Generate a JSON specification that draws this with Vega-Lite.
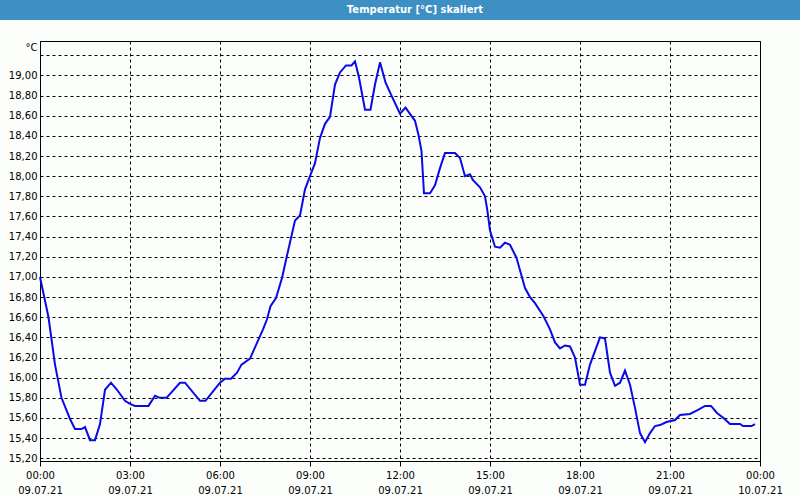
{
  "$schema": "https://vega.github.io/schema/vega-lite/v6.json",
  "padding": 0,
  "background": "#fcfefc",
  "spacing": 20,
  "config": {
    "font": "DejaVu Sans",
    "view": {"stroke": "black", "fill": "#fcfefc"}
  },
  "vconcat": [
    {
      "width": 800,
      "height": 20,
      "view": {"stroke": null, "fill": "#3d8fc4"},
      "data": {"values": [{"label": "Temperatur [°C] skaliert"}]},
      "mark": {"type": "text", "font": "DejaVu Sans", "fontSize": 10, "fontWeight": "bold", "color": "white", "baseline": "middle", "align": "center", "dx": 15},
      "encoding": {"text": {"field": "label", "type": "nominal"}}
    },
    {
      "bounds": "flush",
      "spacing": 10,
      "hconcat": [
        {
          "width": 30,
          "height": 420,
          "view": {"stroke": null, "fill": null},
          "data": {"values": [{"a": 1}]},
          "mark": {"type": "point", "opacity": 0},
          "encoding": {}
        },
        {
          "width": 720,
          "height": 420,
          "data": {"values": [
            {"time": "2021-07-09T00:00", "temp": 17.00},
            {"time": "2021-07-09T00:17", "temp": 16.60},
            {"time": "2021-07-09T00:30", "temp": 16.13},
            {"time": "2021-07-09T00:43", "temp": 15.80},
            {"time": "2021-07-09T01:00", "temp": 15.59},
            {"time": "2021-07-09T01:10", "temp": 15.49},
            {"time": "2021-07-09T01:23", "temp": 15.49},
            {"time": "2021-07-09T01:30", "temp": 15.51},
            {"time": "2021-07-09T01:40", "temp": 15.38},
            {"time": "2021-07-09T01:50", "temp": 15.38},
            {"time": "2021-07-09T02:00", "temp": 15.54},
            {"time": "2021-07-09T02:10", "temp": 15.88},
            {"time": "2021-07-09T02:22", "temp": 15.95},
            {"time": "2021-07-09T02:34", "temp": 15.88},
            {"time": "2021-07-09T02:50", "temp": 15.77},
            {"time": "2021-07-09T03:00", "temp": 15.74},
            {"time": "2021-07-09T03:10", "temp": 15.72},
            {"time": "2021-07-09T03:37", "temp": 15.72},
            {"time": "2021-07-09T03:50", "temp": 15.82},
            {"time": "2021-07-09T04:00", "temp": 15.80},
            {"time": "2021-07-09T04:13", "temp": 15.80},
            {"time": "2021-07-09T04:40", "temp": 15.95},
            {"time": "2021-07-09T04:50", "temp": 15.95},
            {"time": "2021-07-09T05:20", "temp": 15.77},
            {"time": "2021-07-09T05:31", "temp": 15.77},
            {"time": "2021-07-09T06:00", "temp": 15.95},
            {"time": "2021-07-09T06:10", "temp": 15.99},
            {"time": "2021-07-09T06:22", "temp": 15.99},
            {"time": "2021-07-09T06:34", "temp": 16.05},
            {"time": "2021-07-09T06:43", "temp": 16.13},
            {"time": "2021-07-09T07:00", "temp": 16.19},
            {"time": "2021-07-09T07:10", "temp": 16.30},
            {"time": "2021-07-09T07:26", "temp": 16.48},
            {"time": "2021-07-09T07:34", "temp": 16.58},
            {"time": "2021-07-09T07:41", "temp": 16.71},
            {"time": "2021-07-09T07:52", "temp": 16.79},
            {"time": "2021-07-09T08:04", "temp": 16.99},
            {"time": "2021-07-09T08:13", "temp": 17.19},
            {"time": "2021-07-09T08:30", "temp": 17.56},
            {"time": "2021-07-09T08:40", "temp": 17.61},
            {"time": "2021-07-09T08:50", "temp": 17.87},
            {"time": "2021-07-09T09:00", "temp": 18.00},
            {"time": "2021-07-09T09:10", "temp": 18.13},
            {"time": "2021-07-09T09:20", "temp": 18.38},
            {"time": "2021-07-09T09:30", "temp": 18.52},
            {"time": "2021-07-09T09:40", "temp": 18.59},
            {"time": "2021-07-09T09:50", "temp": 18.91},
            {"time": "2021-07-09T10:00", "temp": 19.03},
            {"time": "2021-07-09T10:12", "temp": 19.10},
            {"time": "2021-07-09T10:23", "temp": 19.10},
            {"time": "2021-07-09T10:30", "temp": 19.14},
            {"time": "2021-07-09T10:38", "temp": 18.98},
            {"time": "2021-07-09T10:50", "temp": 18.66},
            {"time": "2021-07-09T11:01", "temp": 18.66},
            {"time": "2021-07-09T11:10", "temp": 18.91},
            {"time": "2021-07-09T11:20", "temp": 19.13},
            {"time": "2021-07-09T11:31", "temp": 18.93},
            {"time": "2021-07-09T11:43", "temp": 18.80},
            {"time": "2021-07-09T12:00", "temp": 18.62},
            {"time": "2021-07-09T12:11", "temp": 18.68},
            {"time": "2021-07-09T12:30", "temp": 18.55},
            {"time": "2021-07-09T12:37", "temp": 18.41},
            {"time": "2021-07-09T12:43", "temp": 18.25},
            {"time": "2021-07-09T12:48", "temp": 17.83},
            {"time": "2021-07-09T13:00", "temp": 17.83},
            {"time": "2021-07-09T13:10", "temp": 17.91},
            {"time": "2021-07-09T13:20", "temp": 18.08},
            {"time": "2021-07-09T13:30", "temp": 18.23},
            {"time": "2021-07-09T13:50", "temp": 18.23},
            {"time": "2021-07-09T14:00", "temp": 18.18},
            {"time": "2021-07-09T14:10", "temp": 18.00},
            {"time": "2021-07-09T14:20", "temp": 18.02},
            {"time": "2021-07-09T14:26", "temp": 17.96},
            {"time": "2021-07-09T14:40", "temp": 17.89},
            {"time": "2021-07-09T14:50", "temp": 17.80},
            {"time": "2021-07-09T14:55", "temp": 17.65},
            {"time": "2021-07-09T15:00", "temp": 17.46},
            {"time": "2021-07-09T15:10", "temp": 17.30},
            {"time": "2021-07-09T15:20", "temp": 17.29},
            {"time": "2021-07-09T15:30", "temp": 17.34},
            {"time": "2021-07-09T15:40", "temp": 17.32},
            {"time": "2021-07-09T15:53", "temp": 17.19},
            {"time": "2021-07-09T16:10", "temp": 16.89},
            {"time": "2021-07-09T16:20", "temp": 16.80},
            {"time": "2021-07-09T16:30", "temp": 16.74},
            {"time": "2021-07-09T16:47", "temp": 16.61},
            {"time": "2021-07-09T17:00", "temp": 16.48},
            {"time": "2021-07-09T17:10", "temp": 16.35},
            {"time": "2021-07-09T17:20", "temp": 16.29},
            {"time": "2021-07-09T17:30", "temp": 16.32},
            {"time": "2021-07-09T17:40", "temp": 16.31},
            {"time": "2021-07-09T17:50", "temp": 16.20},
            {"time": "2021-07-09T18:00", "temp": 15.93},
            {"time": "2021-07-09T18:10", "temp": 15.93},
            {"time": "2021-07-09T18:20", "temp": 16.13},
            {"time": "2021-07-09T18:40", "temp": 16.40},
            {"time": "2021-07-09T18:50", "temp": 16.39},
            {"time": "2021-07-09T19:00", "temp": 16.05},
            {"time": "2021-07-09T19:10", "temp": 15.92},
            {"time": "2021-07-09T19:20", "temp": 15.95},
            {"time": "2021-07-09T19:30", "temp": 16.07},
            {"time": "2021-07-09T19:40", "temp": 15.93},
            {"time": "2021-07-09T19:50", "temp": 15.70},
            {"time": "2021-07-09T20:00", "temp": 15.45},
            {"time": "2021-07-09T20:10", "temp": 15.36},
            {"time": "2021-07-09T20:20", "temp": 15.45},
            {"time": "2021-07-09T20:30", "temp": 15.52},
            {"time": "2021-07-09T20:40", "temp": 15.53},
            {"time": "2021-07-09T20:53", "temp": 15.56},
            {"time": "2021-07-09T21:10", "temp": 15.58},
            {"time": "2021-07-09T21:20", "temp": 15.63},
            {"time": "2021-07-09T21:40", "temp": 15.64},
            {"time": "2021-07-09T21:56", "temp": 15.68},
            {"time": "2021-07-09T22:10", "temp": 15.72},
            {"time": "2021-07-09T22:22", "temp": 15.72},
            {"time": "2021-07-09T22:34", "temp": 15.65},
            {"time": "2021-07-09T22:47", "temp": 15.60},
            {"time": "2021-07-09T23:00", "temp": 15.54},
            {"time": "2021-07-09T23:20", "temp": 15.54},
            {"time": "2021-07-09T23:26", "temp": 15.52},
            {"time": "2021-07-09T23:43", "temp": 15.52},
            {"time": "2021-07-09T23:50", "temp": 15.54}
          ]},
          "mark": {"type": "line", "color": "#0a0ae6", "strokeWidth": 2},
          "encoding": {
            "x": {
              "field": "time",
              "type": "temporal",
              "scale": {
                "domain": ["2021-07-09T00:00", "2021-07-10T00:00"],
                "nice": false
              },
              "axis": {
                "title": null,
                "values": [
                  {"year": 2021, "month": 7, "date": 9, "hours": 0},
                  {"year": 2021, "month": 7, "date": 9, "hours": 3},
                  {"year": 2021, "month": 7, "date": 9, "hours": 6},
                  {"year": 2021, "month": 7, "date": 9, "hours": 9},
                  {"year": 2021, "month": 7, "date": 9, "hours": 12},
                  {"year": 2021, "month": 7, "date": 9, "hours": 15},
                  {"year": 2021, "month": 7, "date": 9, "hours": 18},
                  {"year": 2021, "month": 7, "date": 9, "hours": 21},
                  {"year": 2021, "month": 7, "date": 10, "hours": 0}
                ],
                "labelExpr": "[timeFormat(datum.value, '%H:%M'), timeFormat(datum.value, '%d.%m.%y')]",
                "labelOverlap": false,
                "labelFlush": false,
                "labelFont": "DejaVu Sans",
                "labelFontSize": 10,
                "labelColor": "black",
                "labelBaseline": "top",
                "labelLineHeight": 15,
                "labelPadding": 4,
                "tickSize": 5,
                "tickColor": "black",
                "domainColor": "black",
                "grid": true,
                "gridColor": "black",
                "gridDash": [3, 3],
                "gridOpacity": 1
              }
            },
            "y": {
              "field": "temp",
              "type": "quantitative",
              "scale": {"domain": [15.173, 19.342], "nice": false, "zero": false},
              "axis": {
                "title": "°C",
                "titleAngle": 0,
                "titleAlign": "right",
                "titleBaseline": "middle",
                "titleX": -3,
                "titleY": 6,
                "titleFont": "DejaVu Sans",
                "titleFontSize": 10,
                "titleFontWeight": "normal",
                "titleColor": "black",
                "values": [15.2, 15.4, 15.6, 15.8, 16.0, 16.2, 16.4, 16.6, 16.8, 17.0, 17.2, 17.4, 17.6, 17.8, 18.0, 18.2, 18.4, 18.6, 18.8, 19.0, 19.2],
                "labelExpr": "datum.value > 19.1 ? '' : replace(format(datum.value, '.2f'), '.', ',')",
                "labelFont": "DejaVu Sans",
                "labelFontSize": 10,
                "labelColor": "black",
                "labelPadding": 3,
                "ticks": false,
                "domain": false,
                "grid": true,
                "gridColor": "black",
                "gridDash": [3, 3],
                "gridOpacity": 1
              }
            }
          }
        }
      ]
    }
  ]
}
